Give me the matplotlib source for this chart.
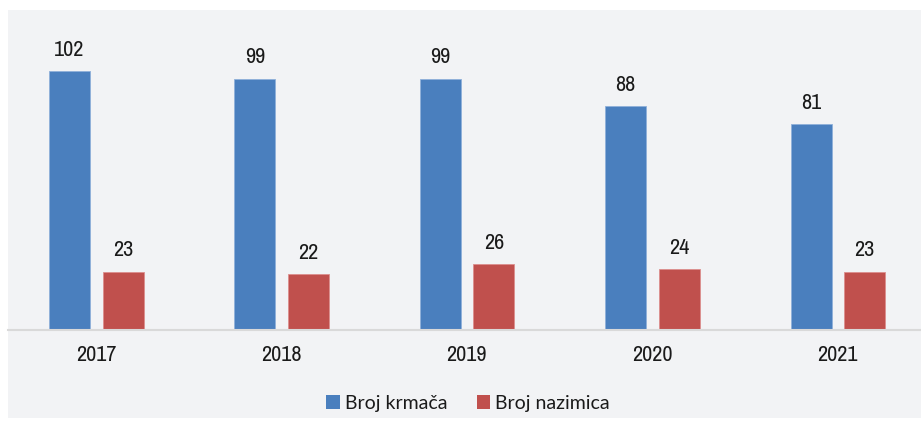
import matplotlib
matplotlib.use("Agg")
import matplotlib.pyplot as plt
from matplotlib.patches import Rectangle
from matplotlib import font_manager as fm
import numpy as np

years = ["2017", "2018", "2019", "2020", "2021"]
krmace = [102, 99, 99, 88, 81]
nazimice = [23, 22, 26, 24, 23]
series_names = ["Broj krmača", "Broj nazimica"]
colors = ["#4a7fbe", "#c0504d"]

names = sorted({f.name for f in fm.fontManager.ttflist})
narrow_cands = [n for n in names if "Narrow" in n or "Condensed" in n]
if narrow_cands:
    label_fp = dict(family=[narrow_cands[0], "Liberation Sans"], size=16)
else:
    cond = [f for f in fm.fontManager.ttflist if f.stretch not in ("normal", 500) and "Sans" in f.name]
    if cond:
        label_fp = dict(family=[cond[0].name], stretch=cond[0].stretch, size=16)
    else:
        label_fp = dict(family=["Liberation Sans"], size=13.5)

W, H = 921, 421
fig = plt.figure(figsize=(W / 100, H / 100), dpi=100)
fig.patch.set_facecolor("white")
fig.patches.append(Rectangle((8 / W, 3 / H), 1 - 8 / W, (408) / H,
                             transform=fig.transFigure, facecolor="#f2f3f5",
                             edgecolor="none", zorder=-10))

base_px = 330
top_px = 10
ax = fig.add_axes([0, (H - base_px) / H, 1, (base_px - top_px) / H])
ax.set_facecolor("none")
ax.set_zorder(1)
px_per_unit = 2.54
ax.set_ylim(0, (base_px - top_px) / px_per_unit)
cat_px = 185.4
xmin = -96 / cat_px
ax.set_xlim(xmin, xmin + W / cat_px)

x = np.arange(len(years))
bw = 41 / cat_px
off = 26.5 / cat_px
b1 = ax.bar(x - off, krmace, bw, color=colors[0], edgecolor="#8fb0da", linewidth=0.6, label=series_names[0])
b2 = ax.bar(x + off + 0.003, nazimice, bw, color=colors[1], edgecolor="#dc8f8d", linewidth=0.6, label=series_names[1])

for bars, vals in ((b1, krmace), (b2, nazimice)):
    for r, v in zip(bars, vals):
        ax.annotate(str(v), (r.get_x() + r.get_width() / 2, v), xytext=(0, 8),
                    textcoords="offset points", ha="center", va="bottom",
                    color="#1a1a1a", **label_fp)

for s in ["top", "right", "left"]:
    ax.spines[s].set_visible(False)
ax.spines["bottom"].set_color("#d9d9d9")
ax.spines["bottom"].set_linewidth(1.5)
ax.spines["bottom"].set_bounds(xmin + 8 / cat_px, xmin + W / cat_px)
ax.set_yticks([])
ax.set_xticks(x)
ax.set_xticklabels(years, color="#1a1a1a", **label_fp)
ax.tick_params(axis="x", length=0, pad=11)

leg = fig.legend(handles=[b1, b2], labels=series_names, loc="center",
                 bbox_to_anchor=(468 / W, (H - 403) / H), ncol=2, frameon=False,
                 prop={"family": ["Lato", "DejaVu Sans"], "size": 14},
                 handlelength=0.7, handleheight=0.7, handletextpad=0.25,
                 columnspacing=1.5)
for h in leg.legend_handles:
    h.set_edgecolor("none")
for t in leg.get_texts():
    t.set_color("#1a1a1a")

fig.savefig("out.png", dpi=100)
